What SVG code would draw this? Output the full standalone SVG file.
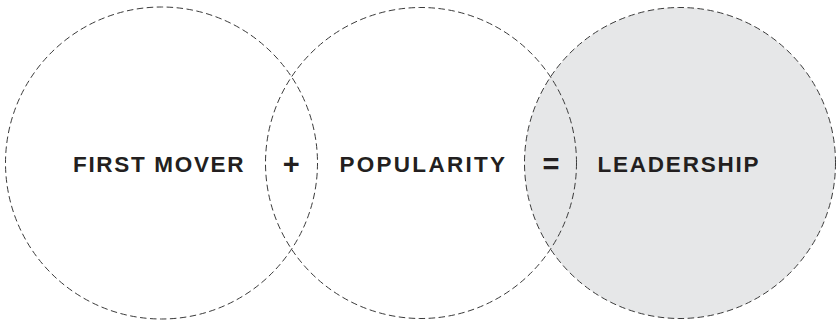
<svg xmlns="http://www.w3.org/2000/svg" width="837" height="321" viewBox="0 0 837 321">
<style>
.c{fill:none;stroke:#3a3a3a;stroke-width:1;stroke-dasharray:6.5 3.5}
.f{fill:#e6e7e8}
.t{font-family:"Liberation Sans",Arial,sans-serif;font-weight:bold;font-size:22.5px;fill:#231f20}
.o{font-family:"Liberation Sans",Arial,sans-serif;font-weight:bold;font-size:29px;fill:#231f20;text-anchor:middle}
</style>
<rect width="837" height="321" fill="#ffffff"/>
<g id="leadership">
<circle class="c f" cx="680" cy="163" r="155.5"/>
<text class="t" x="597.5" y="172" textLength="161" lengthAdjust="spacing">LEADERSHIP</text>
</g>
<g id="first-mover">
<circle class="c" cx="161.5" cy="163" r="156"/>
<text class="t" x="73" y="172" textLength="170.5" lengthAdjust="spacing">FIRST MOVER</text>
</g>
<g id="popularity">
<circle class="c" cx="421" cy="163" r="155.5"/>
<text class="t" x="339.5" y="172" textLength="165.5" lengthAdjust="spacing">POPULARITY</text>
</g>
<g id="connectors">
<text class="o" x="291.3" y="173.5">+</text>
<text class="o" x="551" y="173.5">=</text>
</g>
</svg>
